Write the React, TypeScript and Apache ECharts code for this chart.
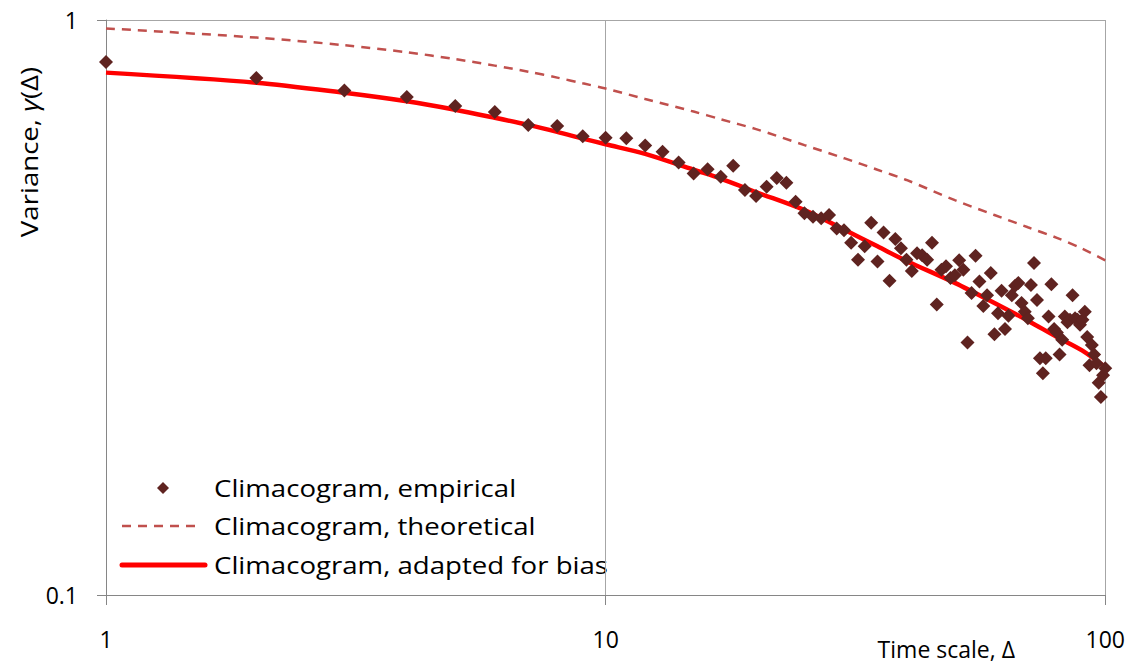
import React, { useEffect, useRef } from "react";
import * as echarts from "echarts";

// ---- data ----
const empiricalDelta = [
  1, 2, 3, 4, 5, 6, 7, 8, 9, 10,
  11, 12, 13, 14, 15, 16, 17, 18, 19, 20,
  21, 22, 23, 24, 25, 26, 27, 28, 29, 30,
  31, 32, 33, 34, 35, 36, 37, 38, 39, 40,
  41, 42, 43, 44, 45, 46, 47, 48, 49, 50,
  51, 52, 53, 54, 55, 56, 57, 58, 59, 60,
  61, 62, 63, 64, 65, 66, 67, 68, 69, 70,
  71, 72, 73, 74, 75, 76, 77, 78, 79, 80,
  81, 82, 83, 84, 85, 86, 87, 88, 89, 90,
  91, 92, 93, 94, 95, 96, 97, 98, 99, 100,
];
const empiricalVariance = [
  0.845, 0.793, 0.754, 0.735, 0.709, 0.692, 0.657, 0.654, 0.628, 0.624,
  0.623, 0.605, 0.59, 0.565, 0.541, 0.55, 0.534, 0.558, 0.506, 0.494,
  0.513, 0.531, 0.521, 0.483, 0.461, 0.455, 0.452, 0.458, 0.434, 0.431,
  0.41, 0.383, 0.404, 0.444, 0.38, 0.427, 0.352, 0.416, 0.401, 0.383,
  0.366, 0.393, 0.39, 0.383, 0.41, 0.32, 0.368, 0.373, 0.356, 0.36,
  0.382, 0.368, 0.275, 0.335, 0.389, 0.351, 0.318, 0.332, 0.363, 0.284,
  0.309, 0.338, 0.29, 0.306, 0.332, 0.345, 0.349, 0.322, 0.311, 0.303,
  0.346, 0.378, 0.326, 0.258, 0.243, 0.258, 0.305, 0.347, 0.29, 0.286,
  0.262, 0.278, 0.305, 0.298, 0.301, 0.332, 0.303, 0.301, 0.295, 0.301,
  0.311, 0.281, 0.251, 0.272, 0.262, 0.253, 0.234, 0.221, 0.241, 0.248,
];

const modelDelta = [1, 2, 3, 4, 5, 6, 7, 8, 9, 10, 12, 15, 17, 20, 25, 30, 35, 40, 50, 60, 70, 80, 90, 100];
const theoreticalVariance = [
  0.967, 0.932, 0.904, 0.879, 0.855, 0.833, 0.813, 0.794, 0.776, 0.76, 0.729, 0.693,
  0.672, 0.646, 0.606, 0.575, 0.549, 0.527, 0.486, 0.458, 0.436, 0.418, 0.4, 0.382,
];
const adaptedVariance = [
  0.81, 0.778, 0.747, 0.722, 0.698, 0.676, 0.657, 0.639, 0.622, 0.608, 0.585, 0.549,
  0.53, 0.502, 0.467, 0.432, 0.404, 0.381, 0.349, 0.322, 0.3, 0.281, 0.266, 0.249,
];

const seriesNames = [
  "Climacogram, empirical",
  "Climacogram, theoretical",
  "Climacogram, adapted for bias",
];
const xTicks = [1, 10, 100];
const yTicks = [0.1, 1];
const xTitle = "Time scale, Δ";

const FONT = "Open Sans";
const EMP_COLOR = "#5f2320";
const THEO_COLOR = "#c0504d";
const ADAPT_COLOR = "#ff0000";

export default function App() {
  const ref = useRef<HTMLDivElement>(null);

  useEffect(() => {
    const chart = echarts.init(ref.current as HTMLDivElement, null, { renderer: "svg" });
    const axisGrey = "#868686";
    const gridGrey = "#a6a6a6";

    const legendText = (text: string, y: number) => ({
      type: "text",
      x: 214,
      y,
      scaleX: 1.15,
      style: {
        text,
        fontSize: 24,
        fontFamily: FONT,
        fill: "#000",
        align: "left",
        verticalAlign: "middle",
      },
    });

    chart.setOption({
      animation: false,
      backgroundColor: "#ffffff",
      textStyle: { fontFamily: FONT },
      grid: { left: 106, top: 20, width: 1000, height: 575, containLabel: false },
      xAxis: {
        type: "log",
        logBase: 10,
        min: xTicks[0],
        max: xTicks[xTicks.length - 1],
        axisLine: { show: true, lineStyle: { color: axisGrey, width: 1 } },
        axisTick: { show: true, length: 10, inside: false, lineStyle: { color: axisGrey } },
        axisLabel: { fontSize: 23, color: "#000", margin: 32, fontFamily: FONT },
        splitLine: { show: true, lineStyle: { color: gridGrey, width: 1 } },
        minorTick: { show: false },
      },
      yAxis: {
        type: "log",
        logBase: 10,
        min: yTicks[0],
        max: yTicks[yTicks.length - 1],
        axisLine: { show: true, lineStyle: { color: axisGrey, width: 1 } },
        axisTick: { show: true, length: 9, inside: false, lineStyle: { color: axisGrey } },
        axisLabel: { fontSize: 23, color: "#000", margin: 28, fontFamily: FONT },
        splitLine: { show: true, lineStyle: { color: gridGrey, width: 1 } },
        minorTick: { show: false },
      },
      graphic: [
        {
          type: "text",
          x: 1015,
          y: 649,
          style: {
            text: xTitle,
            fontSize: 23,
            fontFamily: FONT,
            fill: "#000",
            align: "right",
            verticalAlign: "middle",
          },
        },
        {
          type: "text",
          x: 29,
          y: 152,
          rotation: Math.PI / 2,
          scaleX: 1.15,
          style: {
            text: "{n|Variance, }{i|γ}{n|(Δ)}",
            fontSize: 24,
            fontFamily: FONT,
            fill: "#000",
            align: "center",
            verticalAlign: "middle",
            rich: {
              n: { fontSize: 24, fontFamily: FONT, fill: "#000" },
              i: { fontSize: 24, fontFamily: FONT, fill: "#000", fontStyle: "italic" },
            },
          },
        },
        // legend
        {
          type: "polygon",
          shape: { points: [[163, 482], [169, 488], [163, 494], [157, 488]] },
          style: { fill: EMP_COLOR },
        },
        legendText(seriesNames[0], 488),
        {
          type: "line",
          shape: { x1: 122, y1: 526, x2: 198, y2: 526 },
          style: { stroke: THEO_COLOR, lineWidth: 2.5, lineDash: [9, 7] },
        },
        legendText(seriesNames[1], 526),
        {
          type: "line",
          shape: { x1: 122, y1: 565, x2: 205, y2: 565 },
          style: { stroke: ADAPT_COLOR, lineWidth: 5, lineCap: "round" },
        },
        legendText(seriesNames[2], 565),
      ],
      series: [
        {
          name: seriesNames[1],
          type: "line",
          data: modelDelta.map((d, i) => [d, theoreticalVariance[i]]),
          symbol: "none",
          smooth: 0.3,
          z: 2,
          lineStyle: { color: THEO_COLOR, width: 2.5, type: [9, 7] },
          itemStyle: { color: THEO_COLOR },
        },
        {
          name: seriesNames[2],
          type: "line",
          data: modelDelta.map((d, i) => [d, adaptedVariance[i]]),
          symbol: "none",
          smooth: 0.3,
          z: 3,
          lineStyle: { color: ADAPT_COLOR, width: 4.5 },
          itemStyle: { color: ADAPT_COLOR },
        },
        {
          name: seriesNames[0],
          type: "scatter",
          data: empiricalDelta.map((d, i) => [d, empiricalVariance[i]]),
          symbol: "diamond",
          symbolSize: 14,
          z: 4,
          itemStyle: { color: EMP_COLOR, opacity: 1 },
        },
      ],
    });

    return () => chart.dispose();
  }, []);

  return (
    <div
      ref={ref}
      style={{ position: "fixed", left: 0, top: 0, width: 1128, height: 664, background: "#fff" }}
    />
  );
}
